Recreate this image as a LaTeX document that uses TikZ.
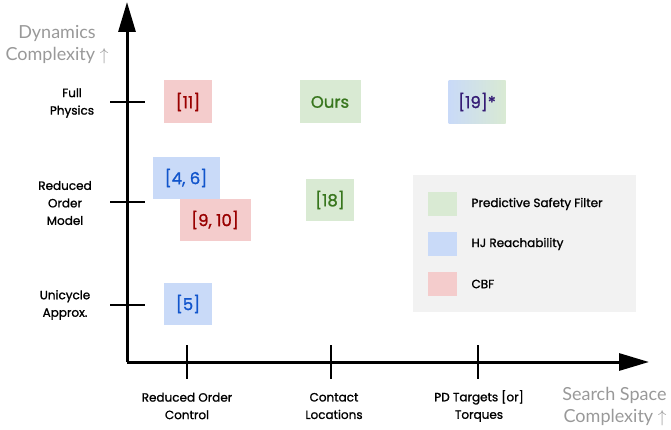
\documentclass[tikz,border=0pt]{standalone}
\usepackage{fontspec}
\setmainfont{Poppins}
\newfontfamily\labelfont[FakeBold=1.2]{Poppins}
\newfontfamily\axisfont{Lato}
\usetikzlibrary{arrows.meta, shadings}

\definecolor{redfill}{HTML}{F4CCCC}
\definecolor{bluefill}{HTML}{C9DAF8}
\definecolor{greenfill}{HTML}{D9EAD3}
\definecolor{redtext}{HTML}{990000}
\definecolor{bluetext}{HTML}{1155CC}
\definecolor{greentext}{HTML}{38761D}
\definecolor{purpletext}{HTML}{351C75}
\definecolor{legendbg}{HTML}{F2F2F2}
\definecolor{axisgray}{HTML}{999999}

\begin{document}
\begin{tikzpicture}[x=1pt, y=-1pt,
  axis/.style={line width=3pt, -{Triangle[length=30pt, width=17pt]}},
  tick/.style={line width=2.2pt},
  ref/.style={minimum height=43pt, inner sep=0pt, font=\labelfont\fontsize{16.5}{18}\selectfont},
  cbf/.style={ref, fill=redfill, text=redtext},
  hj/.style={ref, fill=bluefill, text=bluetext},
  psf/.style={ref, fill=greenfill, text=greentext},
  swatch/.style={minimum width=29pt, minimum height=24pt, inner sep=0pt},
  ticklabel/.style={align=center, font=\labelfont\fontsize{12}{17.5}\selectfont},
  axislabel/.style={font=\axisfont\fontsize{18}{22}\selectfont, text=axisgray},
  legendtext/.style={anchor=west, font=\labelfont\fontsize{12}{14}\selectfont}]
  \useasboundingbox (0,0) rectangle (671,430);

  \coordinate (O) at (127,362);
  \coordinate (Ytop) at (127,2);
  \coordinate (Xend) at (649,362);

  % legend background
  \fill[legendbg] (413,175) rectangle (636,312);

  \draw[axis] (O) -- (Ytop);
  \draw[axis] (O) -- (Xend);

  % y ticks
  \draw[tick] (110,102) -- (145,102);
  \draw[tick] (110,202) -- (145,202);
  \draw[tick] (110,305) -- (145,305);
  % x ticks
  \draw[tick] (187,345) -- (187,379);
  \draw[tick] (331,345) -- (331,379);
  \draw[tick] (478,345) -- (478,379);

  \node[ticklabel] (full) at (72,103) {Full\\Physics};
  \node[ticklabel] (rom) at (65,203) {Reduced\\Order\\Model};
  \node[ticklabel] (uni) at (65,305) {Unicycle\\Approx.};
  \node[ticklabel] (roc) at (187,406) {Reduced Order\\Control};
  \node[ticklabel] (contact) at (334,406) {Contact\\Locations};
  \node[ticklabel] (pd) at (479,406) {PD Targets [or]\\Torques};

  \node[axislabel, align=center] (ydyn) at (57,45) {Dynamics\\Complexity $\uparrow$};
  \node[axislabel, align=right, anchor=east] (xsearch) at (670,407) {Search Space\\Complexity $\uparrow$};

  % references
  \node[cbf, minimum width=48pt] (r11) at (188,102) {[11]};
  \node[psf, minimum width=61pt] (ours) at (330,102) {Ours};
  \node[ref, minimum width=57pt, left color=bluefill, right color=greenfill, text=purpletext] (r19) at (477,102) {[19]*};
  \node[hj, minimum width=67pt, minimum height=42pt] (r46) at (186,178) {[4, 6]};
  \node[cbf, minimum width=71pt, minimum height=42pt] (r910) at (215,220) {[9, 10]};
  \node[psf, minimum width=48pt, minimum height=42pt] (r18) at (330,200) {[18]};
  \node[hj, minimum width=48pt, minimum height=42pt] (r5) at (188,304) {[5]};

  % legend
  \node[swatch, fill=greenfill] (lgpsf) at (442,204) {};
  \node[swatch, fill=bluefill] (lghj) at (442,244) {};
  \node[swatch, fill=redfill] (lgcbf) at (442,284) {};
  \node[legendtext] at (468,204) {Predictive Safety Filter};
  \node[legendtext] at (468,244) {HJ Reachability};
  \node[legendtext] at (468,284) {CBF};
\end{tikzpicture}
\end{document}
